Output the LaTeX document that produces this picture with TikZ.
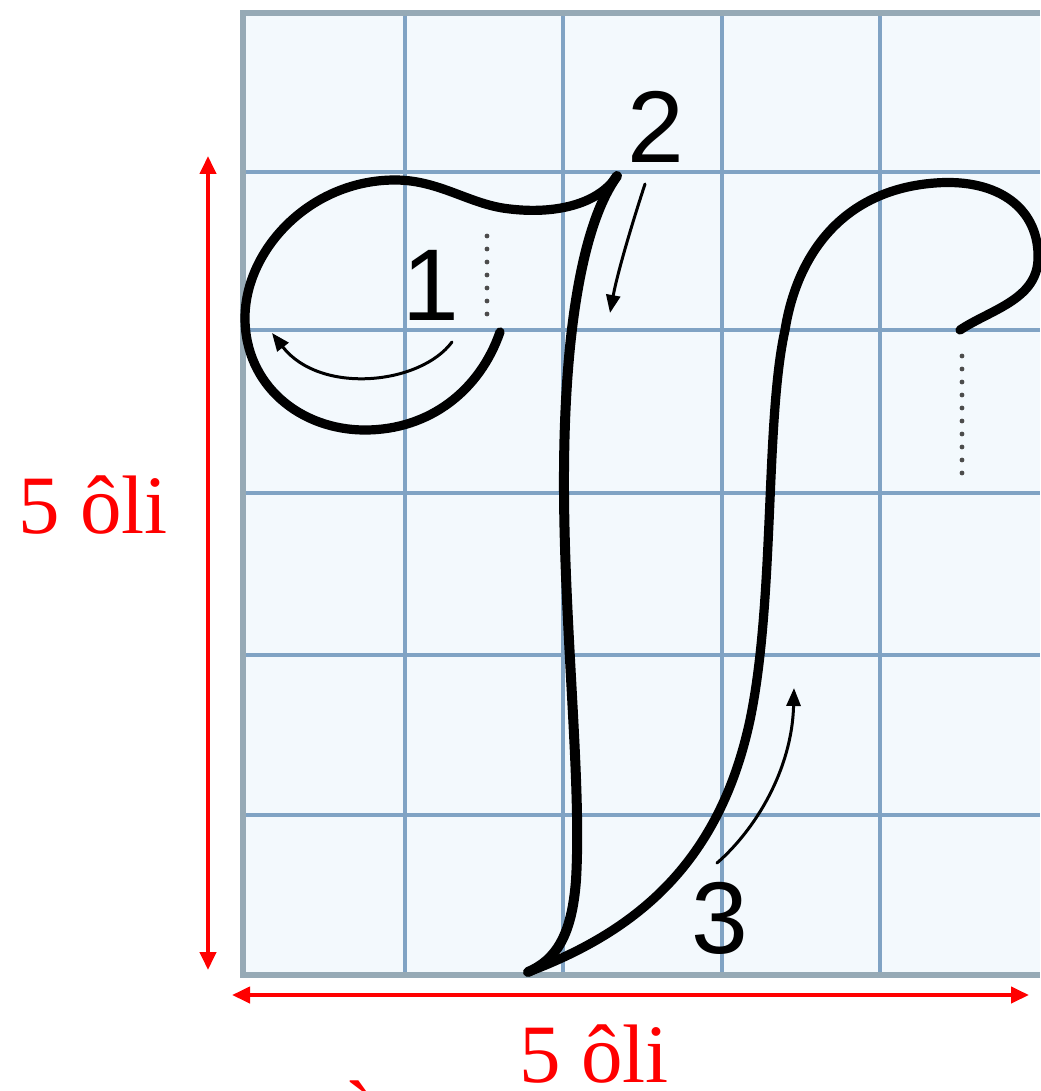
\documentclass[tikz,border=0pt]{standalone}
\usepackage{fontspec}
\setmainfont{Liberation Serif}
\newfontfamily\digitfont{Liberation Sans}
\usetikzlibrary{arrows.meta}
\definecolor{gridblue}{RGB}{128,163,196}
\definecolor{gridgray}{RGB}{150,170,182}
\definecolor{paper}{RGB}{243,249,253}
\begin{document}
\begin{tikzpicture}[x=0.5pt,y=-0.5pt,
  pen/.style={line width=4.6pt, line cap=round, line join=round, black},
  guide/.style={line width=1.5pt, black, line cap=round, -{Triangle[length=9pt,width=7pt]}},
  dotline/.style={line width=2.4pt, line cap=round, dash pattern=on 0pt off 6.5pt, black!70},
  measure/.style={line width=2pt, red, {Triangle[length=9pt,width=8pt]}-{Triangle[length=9pt,width=8pt]}},
  redlabel/.style={text=red, font=\fontsize{41.5}{41.5}\selectfont, inner sep=0pt},
  numlabel/.style={font=\digitfont\fontsize{51}{51}\selectfont, inner sep=0pt},
  gridline/.style={line width=2pt, gridblue},
  gridedge/.style={line width=2.8pt, gridgray}]

\useasboundingbox (0,0) rectangle (1040,1091);
\fill[white] (0,0) rectangle (1040,1091);
\fill[paper] (243,13) rectangle (1040,975);

% grid
\foreach \yy in {172,330,493,655,815} \draw[gridline] (243,\yy) -- (1040,\yy);
\foreach \xx in {405,563,722,880} \draw[gridline] (\xx,13) -- (\xx,975);
\draw[gridedge] (1040,13) -- (243,13) -- (243,975) -- (1040,975);

% dotted guides
\draw[dotline] (487,236) -- (487,326);
\draw[dotline] (962,356) -- (962,480);

% stroke 1: loop and wave
\draw[pen] (500,332) .. controls (480,390) and (430,430) .. (365,430)
  .. controls (300,430) and (245,385) .. (245,318)
  .. controls (245,250) and (310,180) .. (395,180)
  .. controls (440,180) and (470,205) .. (510,209)
  .. controls (552,214) and (597,206) .. (617,176);

% stroke 2: down stroke
\draw[pen, line width=5pt] (617,176) .. controls (585,220) and (565,320) .. (564,470)
  .. controls (563,620) and (582,780) .. (576,880)
  .. controls (572,935) and (556,960) .. (528,972);

% stroke 3: up stroke and top curl
\draw[pen] (528,972) .. controls (640,930) and (720,860) .. (750,720)
  .. controls (775,600) and (765,420) .. (785,330)
  .. controls (797,255) and (842,190) .. (935,183)
  .. controls (1000,178) and (1040,210) .. (1038,260)
  .. controls (1036,300) and (990,310) .. (960,330);

% direction arrows
\coordinate (a1s) at (452,342); \coordinate (a1e) at (272,333);
\draw[guide] (a1s) .. controls (420,385) and (320,395) .. (a1e);
\coordinate (a2s) at (645,184); \coordinate (a2e) at (610,313);
\draw[guide] (a2s) .. controls (630,230) and (617,275) .. (a2e);
\coordinate (a3s) at (717,863); \coordinate (a3e) at (794,688);
\draw[guide] (a3s) .. controls (755,830) and (792,770) .. (a3e);

% step numbers
\node[numlabel] (n1) at (431,285) {1};
\node[numlabel] (n2) at (656,127) {2};
\node[numlabel] (n3) at (720,918) {3};

% measurement arrows
\coordinate (vt) at (208,156); \coordinate (vb) at (208,970);
\draw[measure] (vt) -- (vb);
\coordinate (hl) at (232,995); \coordinate (hr) at (1029,995);
\draw[measure] (hl) -- (hr);

\node[redlabel, anchor=base] (lv) at (93,533) {5 ôli};
\node[redlabel, anchor=base] (lh) at (594,1082) {5 ôli};
\node[redlabel, anchor=base west] (acc) at (342,1138) {à};
\end{tikzpicture}
\end{document}
